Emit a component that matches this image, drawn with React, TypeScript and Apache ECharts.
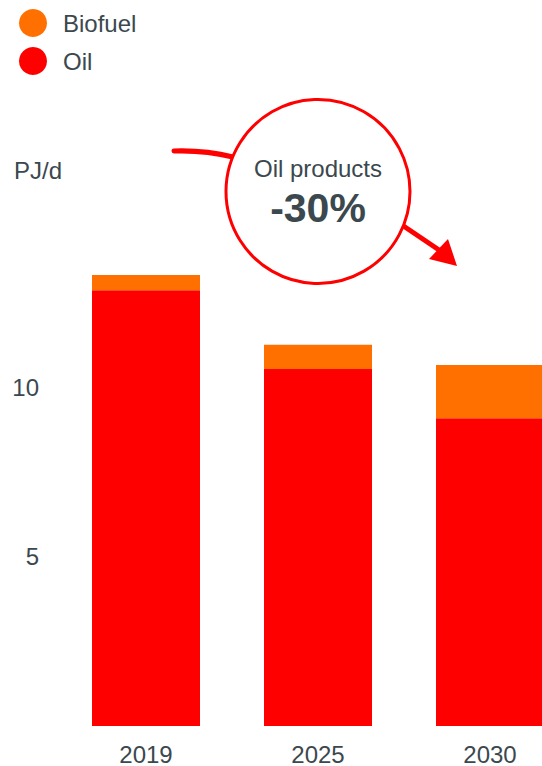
import React, { useEffect, useRef } from "react";
import * as echarts from "echarts";

const categories = ["2019", "2025", "2030"];
const oilValues = [12.87, 10.54, 9.09];
const biofuelValues = [0.45, 0.72, 1.57];
const yTicks = [5, 10];
const unitLabel = "PJ/d";
const calloutTitle = "Oil products";
const calloutValue = "-30%";

const FONT = "'Liberation Sans', Arial, Helvetica, sans-serif";
const TEXT = "#3b484e";
const RED = "#ff0000";
const ORANGE = "#ff7000";

export default function App() {
  const ref = useRef<HTMLDivElement>(null);
  useEffect(() => {
    if (!ref.current) return;
    const chart = echarts.init(ref.current, null, { renderer: "svg" });
    chart.setOption({
      animation: false,
      textStyle: { fontFamily: FONT },
      legend: {
        orient: "vertical",
        left: 14,
        top: 4,
        icon: "circle",
        itemWidth: 28,
        itemHeight: 28,
        itemGap: 10,
        data: ["Biofuel", "Oil"],
        textStyle: {
          fontSize: 24,
          color: TEXT,
          fontFamily: FONT,
          padding: [0, 0, 0, 11],
          lineHeight: 28,
        },
      },
      grid: { left: 60, top: 218, right: 0, bottom: 40, containLabel: false },
      xAxis: {
        type: "category",
        data: categories,
        axisLine: { show: false },
        axisTick: { show: false },
        axisLabel: { fontSize: 24, color: TEXT, margin: 16, fontFamily: FONT },
      },
      yAxis: {
        type: "value",
        min: 0,
        max: 15,
        interval: 5,
        axisLine: { show: false },
        axisTick: { show: false },
        splitLine: { show: false },
        axisLabel: {
          fontSize: 24,
          color: TEXT,
          margin: 21,
          fontFamily: FONT,
          formatter: (v: number) => (yTicks.includes(v) ? String(v) : ""),
        },
      },
      series: [
        {
          name: "Oil",
          type: "bar",
          stack: "total",
          barWidth: 108,
          data: oilValues,
          itemStyle: { color: RED },
        },
        {
          name: "Biofuel",
          type: "bar",
          stack: "total",
          barWidth: 108,
          data: biofuelValues,
          itemStyle: { color: ORANGE },
        },
      ],
      graphic: [
        {
          type: "text",
          left: 14,
          top: 158,
          style: { text: unitLabel, fontSize: 24, fill: TEXT, fontFamily: FONT },
        },
        {
          type: "bezierCurve",
          shape: { x1: 174, y1: 151, x2: 233, y2: 157, cpx1: 205, cpy1: 150 },
          style: { stroke: RED, lineWidth: 5, lineCap: "round", fill: null },
          z: 10,
        },
        {
          type: "line",
          shape: { x1: 402, y1: 225, x2: 442, y2: 252 },
          style: { stroke: RED, lineWidth: 5 },
          z: 10,
        },
        {
          type: "polygon",
          shape: { points: [[429, 259], [448, 239], [457, 266]] },
          style: { fill: RED },
          z: 10,
        },
        {
          type: "circle",
          shape: { cx: 318, cy: 191.5, r: 92 },
          style: { fill: "#ffffff", stroke: RED, lineWidth: 3 },
          z: 11,
        },
        {
          type: "text",
          x: 318,
          y: 168,
          style: {
            text: calloutTitle,
            fontSize: 24,
            fill: TEXT,
            fontFamily: FONT,
            align: "center",
            verticalAlign: "middle",
          },
          z: 12,
        },
        {
          type: "text",
          x: 318,
          y: 208,
          style: {
            text: calloutValue,
            fontSize: 41,
            fontWeight: "bold",
            fill: TEXT,
            fontFamily: FONT,
            align: "center",
            verticalAlign: "middle",
          },
          z: 12,
        },
      ],
    });
    return () => chart.dispose();
  }, []);
  return (
    <div
      style={{
        position: "fixed",
        left: 0,
        top: 0,
        width: 542,
        height: 766,
        overflow: "hidden",
        background: "#fff",
      }}
    >
      <div ref={ref} style={{ width: 576, height: 766 }} />
    </div>
  );
}
